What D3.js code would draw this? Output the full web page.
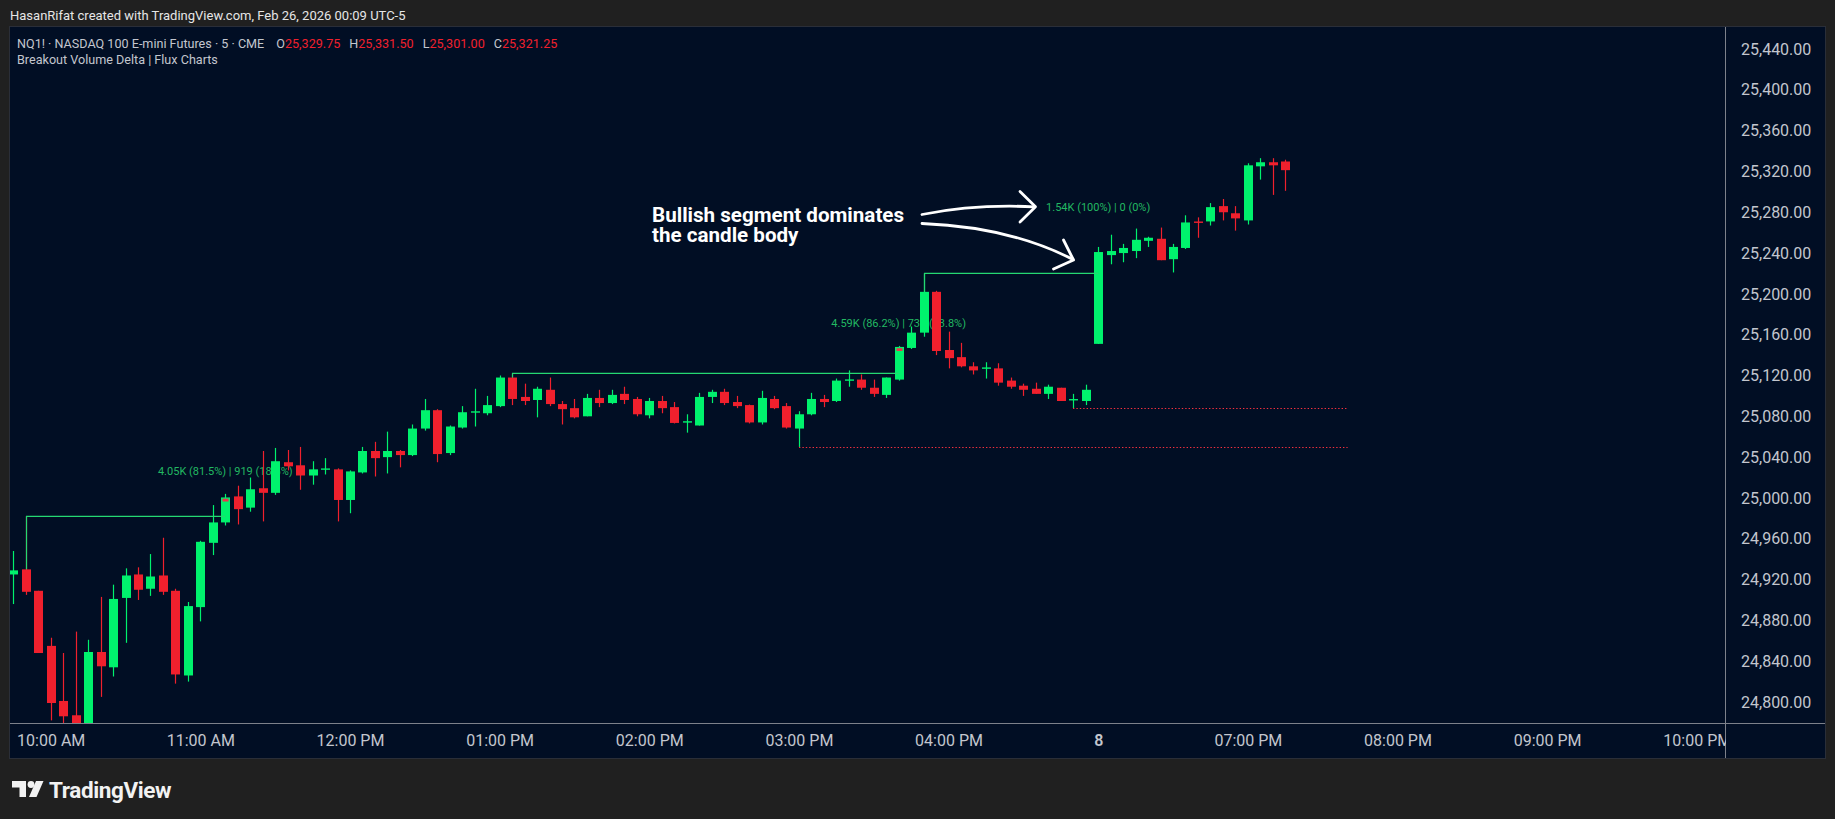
<!DOCTYPE html>
<html><head><meta charset="utf-8">
<script src="https://cdn.jsdelivr.net/npm/d3@7/dist/d3.min.js"></script>
<style>
html,body{margin:0;padding:0;background:#202020;overflow:hidden;}
svg{display:block;}
text{font-family:Roboto,"Liberation Sans",sans-serif;}
</style></head><body>
<svg id="c" width="1835" height="819"></svg>
<script>
// ---------- data ----------
const opens  = [24925,24930,24909,24855,24801,24787,24772,24849,24834,24902,24925,24911,24924,24909,24826,24893,24956,24976,25001.5,24990.5,25009.5,25005,25035,25032,25022,25028,25028,24998,25025,25046,25040,25046,25042,25068,25086,25044,25069,25084,25083,25090,25118,25099,25096,25106,25092,25088,25080,25098,25093,25102,25097,25081,25095,25089,25074,25071,25099,25104,25094,25091,25074,25097,25090,25068,25082,25097,25095,25115,25116,25108,25101,25116,25147,25162,25202,25145,25138,25129,25127,25127,25115,25110,25107,25102,25108,25096,25095,25151,25238,25240,25242,25252,25254,25234,25245,25270.5,25271,25286,25279,25272,25325,25329,25329.75];
const highs  = [24948,24982,24909,24863,24848,24869,24861,24903,24915,24931,24932,24945,24961,24911,24898,24958,24993,25004,25012,25020,25046,25049,25047,25050,25036,25039,25029,25027,25050,25055,25065,25047,25072,25097,25087,25071,25090,25107,25100,25120,25122,25112,25109,25118,25095,25097,25102,25106,25106,25109,25099,25098,25100,25094,25082,25103,25106,25107,25100,25091.5,25105,25100,25093,25085,25103,25101,25117,25125,25121,25116,25118,25149,25168,25220,25203,25163,25152,25133,25133,25132,25118,25112,25113,25111,25108,25102,25111,25246,25258,25249,25264,25256,25265,25249,25277,25275,25289,25293,25286,25328,25333,25333,25331.5];
const lows   = [24896,24905,24848,24782,24778,24766,24765,24805,24825,24858,24900,24904,24905,24818,24820,24879,24944,24973,24974,24986.5,24977,25003,25027,25008,25013,25023,24977,24985,25024,25021,25024,25030,25041,25066,25035,25042,25068,25070,25081,25089,25091,25091,25079,25090,25072,25078,25080,25089,25092,25092,25080,25078,25083,25073,25064,25071,25093,25091,25088,25073,25072,25087,25068,25050,25081,25089,25094,25109,25106,25099,25098,25115,25146,25158,25140,25127,25128,25121,25117,25110,25107,25100,25102,25097,25095,25088,25091,25151,25229,25231,25235,25246,25233,25221,25244,25255,25267,25272,25262,25268,25312,25297,25301];
const closes = [24929,24908,24848,24799,24786,24772,24849,24835,24901,24924,24910,24923,24908,24827,24894,24957,24976,25000.5,24989,25008.5,25005,25036,25031,25022,25028,25028.5,24998,25026,25046,25039,25046,25042,25068,25086,25043,25070,25084,25084.5,25091,25118,25097,25095,25107,25092,25087,25079,25098,25093,25101,25096,25082,25095,25088,25073.5,25075,25099,25104,25093,25090,25074,25098,25088,25069,25082,25097,25094,25115,25116,25108,25102,25118,25148,25162,25202,25144,25137,25129,25125,25127.5,25113,25109,25106,25102,25109,25095,25096.5,25106,25241,25242,25245,25253,25255,25233,25246,25270,25270,25285,25280,25274,25326,25329,25326,25321.25];

const priceTicks = [25440,25400,25360,25320,25280,25240,25200,25160,25120,25080,25040,25000,24960,24920,24880,24840,24800];
const timeTickIndex  = [3,15,27,39,51,63,75,87,99,111,123,135];
const timeTickLabels = ["10:00 AM","11:00 AM","12:00 PM","01:00 PM","02:00 PM","03:00 PM","04:00 PM","8","07:00 PM","08:00 PM","09:00 PM","10:00 PM"];

// breakout levels (bullish, solid)
const levelStart = [1, 40, 73];
const levelPrice = [24982, 25122, 25220];
const levelEnd   = [17, 71, 87];
// unbroken support levels (dotted)
const supportStart = [63, 85];
const supportPrice = [25050.3, 25087.8];
const supportEnd   = [107, 107];

// breakout volume-delta labels
const breakoutIndex = [17, 71, 87];
const breakoutBull  = ["4.05K (81.5%)", "4.59K (86.2%)", "1.54K (100%)"];
const breakoutBear  = ["919 (18.5%)", "735 (13.8%)", "0 (0%)"];
const bearShare     = [0.185, 0.138, 0];
const labelPrice    = [25025.8, 25171.7, 25284.7];

// ---------- layout ----------
const svg = d3.select("#c");
const GREEN="#00f26d", RED="#f0202d", LVL="#25d872", AXC="#7d818b", TXT="#c3c6ce";
const panel={x:10,y:27,r:1825,b:758};
const plot={l:10,t:27,r:1725,b:723};

const x = d3.scaleLinear().domain([0,135]).range([13.3, 13.3+12.47*135]);
const y = d3.scaleLinear().domain([24800,25440]).range([702,49]);
const bw = 9;

svg.append("rect").attr("width",1835).attr("height",819).attr("fill","#202020");
svg.append("rect").attr("x",panel.x-0.5).attr("y",panel.y-0.5).attr("width",panel.r-panel.x+1).attr("height",panel.b-panel.y+1)
   .attr("fill","#010e24").attr("stroke","#2a2e38");

// header
svg.append("text").attr("x",10).attr("y",19.5).attr("fill","#e6e6e6").attr("font-size",13)
   .text("HasanRifat created with TradingView.com, Feb 26, 2026 00:09 UTC-5");
const title = svg.append("text").attr("x",17).attr("y",47.5).attr("font-size",12.6).attr("fill",TXT);
const tparts=[["NQ1! · NASDAQ 100 E-mini Futures · 5 · CME",TXT,0],["O",TXT,12],["25,329.75",RED,0],["H",TXT,9],["25,331.50",RED,0],["L",TXT,9],["25,301.00",RED,0],["C",TXT,9],["25,321.25",RED,0]];
tparts.forEach(p=>title.append("tspan").attr("dx",p[2]).attr("fill",p[1]).text(p[0]));
svg.append("text").attr("x",17).attr("y",64).attr("font-size",12.6).attr("fill",TXT).text("Breakout Volume Delta | Flux Charts");

// clip
svg.append("clipPath").attr("id","pc").append("rect").attr("x",plot.l).attr("y",plot.t).attr("width",plot.r-plot.l).attr("height",plot.b-plot.t);
const g = svg.append("g").attr("clip-path","url(#pc)");

// labels (behind candles)
breakoutIndex.forEach((bi,k)=>{
  g.append("text").attr("x",x(bi)).attr("y",y(labelPrice[k])).attr("dy","0.35em").attr("text-anchor","middle")
   .attr("font-size",11).attr("fill","#22b862").text(breakoutBull[k]+" | "+breakoutBear[k]);
});

// candles
const idx = d3.range(opens.length);
const cx = i=>Math.round(x(i));
g.selectAll("line.wick").data(idx).join("line").attr("class","wick")
  .attr("x1",i=>cx(i)+0.5).attr("x2",i=>cx(i)+0.5)
  .attr("y1",i=>y(highs[i])).attr("y2",i=>y(lows[i]))
  .attr("stroke",i=>closes[i]>=opens[i]?GREEN:RED).attr("stroke-width",1.2);
g.selectAll("rect.body").data(idx).join("rect").attr("class","body")
  .attr("x",i=>cx(i)-4).attr("width",bw)
  .attr("y",i=>{const t=y(Math.max(opens[i],closes[i])),b=y(Math.min(opens[i],closes[i]));return b-t<1.4?(t+b)/2-0.7:t;})
  .attr("height",i=>Math.max(1.4,Math.abs(y(opens[i])-y(closes[i]))))
  .attr("fill",i=>closes[i]>=opens[i]?GREEN:RED);

// bearish segment on breakout candles
breakoutIndex.forEach((bi,k)=>{
  if(bearShare[k]<=0) return;
  const t=y(closes[bi]), b=y(opens[bi]);
  g.append("rect").attr("x",cx(bi)-2.5).attr("width",bw-3).attr("y",t+1.3)
   .attr("height",(b-t)*bearShare[k]*0.6).attr("fill","#f0304a");
});

// levels
levelStart.forEach((s,k)=>{
  const top=y(Math.max(opens[s],closes[s]));
  g.append("path").attr("fill","none").attr("stroke",LVL).attr("stroke-width",1.2)
   .attr("d",`M${cx(s)+0.5},${top}V${y(levelPrice[k])}H${x(levelEnd[k])}`);
});
supportStart.forEach((s,k)=>{
  g.append("line").attr("x1",cx(s)).attr("x2",x(supportEnd[k])).attr("y1",Math.round(y(supportPrice[k]))+0.5).attr("y2",Math.round(y(supportPrice[k]))+0.5)
   .attr("stroke","#f2303f").attr("stroke-width",1.2).attr("stroke-dasharray","1.4 2");
});

// annotation
const ann = svg.append("g");
ann.append("text").attr("x",652).attr("y",221.5).attr("font-family","Inter, Roboto, sans-serif").attr("font-weight",700).attr("font-size",20.6).attr("fill","#ffffff").text("Bullish segment dominates");
ann.append("text").attr("x",652).attr("y",242).attr("font-family","Inter, Roboto, sans-serif").attr("font-weight",700).attr("font-size",20.6).attr("fill","#ffffff").text("the candle body");
const arrow = (d)=>ann.append("path").attr("d",d).attr("fill","none").attr("stroke","#ffffff").attr("stroke-width",2.8).attr("stroke-linecap","round").attr("stroke-linejoin","round");
arrow("M922,214.5 Q975,204 1034,206.8");
arrow("M1020,191.5 L1035.5,206.8 L1020,222");
arrow("M922,223.5 Q1010,227 1073,259.5");
arrow("M1063.5,240 L1073.5,260 L1053.5,269");

// axes lines
svg.append("line").attr("x1",panel.x).attr("x2",panel.r).attr("y1",plot.b+0.5).attr("y2",plot.b+0.5).attr("stroke",AXC);
svg.append("line").attr("x1",plot.r+0.5).attr("x2",plot.r+0.5).attr("y1",panel.y).attr("y2",panel.b).attr("stroke",AXC);

// price axis
const ya = svg.append("g").attr("transform",`translate(${plot.r+16},0)`)
  .call(d3.axisRight(y).tickValues(priceTicks).tickFormat(d3.format(",.2f")).tickSize(0).tickPadding(0));
ya.select(".domain").remove();
ya.selectAll("text").attr("font-family","Roboto, sans-serif").attr("font-size",16).attr("fill",TXT);

// time axis
const xa = svg.append("g").attr("transform",`translate(0,${plot.b})`)
  .call(d3.axisBottom(x).tickValues(timeTickIndex).tickFormat((d,i)=>timeTickLabels[i]).tickSize(0).tickPadding(12));
xa.select(".domain").remove();
xa.selectAll("text").attr("font-family","Roboto, sans-serif").attr("font-size",16).attr("fill",TXT)
  .attr("font-weight",(d,i)=>timeTickLabels[i]==="8"?600:400);
svg.append("rect").attr("x",plot.r+1).attr("y",plot.b+1).attr("width",panel.r-plot.r-1).attr("height",panel.b-plot.b-1).attr("fill","#010e24");

// TradingView logo
const lg = svg.append("g").attr("fill","#f2f2f2");
lg.append("path").attr("d","M12,781 H26 V797 H19.5 V787.5 H12 Z");
lg.append("circle").attr("cx",31).attr("cy",784.5).attr("r",3.4);
lg.append("path").attr("d","M36,781 H43.5 L36.5,797 H29 Z");
svg.append("text").attr("x",49).attr("y",797.5).attr("font-family","Inter, Roboto, sans-serif").attr("font-weight",700).attr("font-size",22.5).attr("fill","#f2f2f2").attr("letter-spacing",-0.4).text("TradingView");
</script>
</body></html>
